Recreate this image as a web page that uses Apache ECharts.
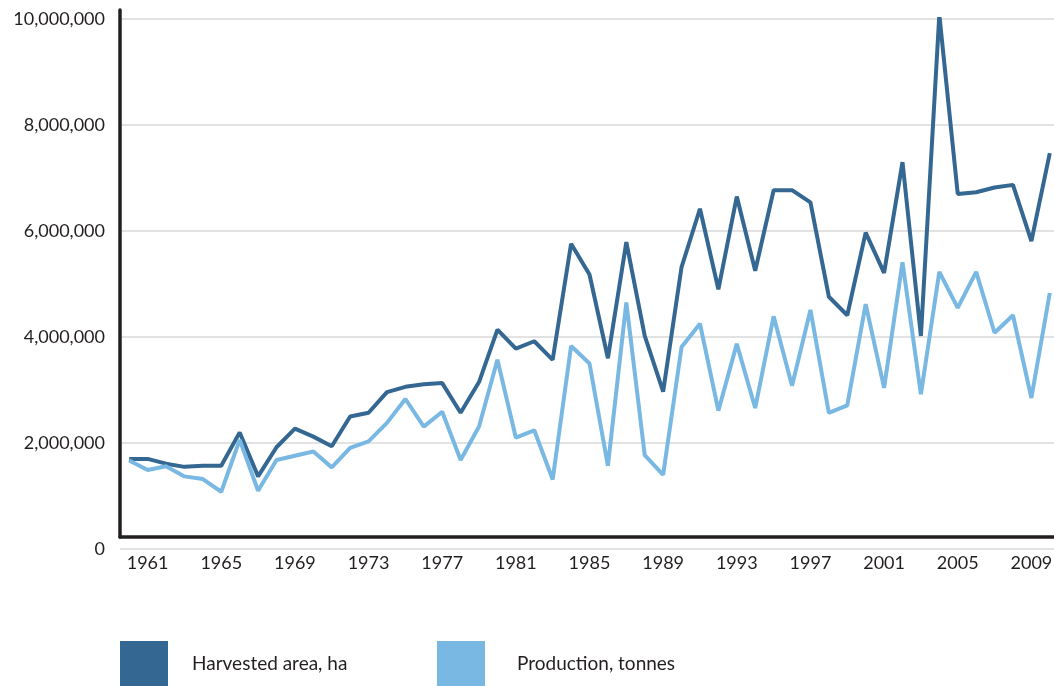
<!DOCTYPE html>
<html>
<head>
<meta charset="utf-8">
<script src="https://cdn.jsdelivr.net/npm/echarts@6/dist/echarts.min.js"></script>
<style>
  body { margin: 0; background: #fff; }
  #chart { width: 1054px; height: 686px; }
</style>
</head>
<body>
<div id="chart"></div>
<script>
// one point per year
const years = ['1960','1961','1962','1963','1964','1965','1966','1967','1968','1969',
  '1970','1971','1972','1973','1974','1975','1976','1977','1978','1979',
  '1980','1981','1982','1983','1984','1985','1986','1987','1988','1989',
  '1990','1991','1992','1993','1994','1995','1996','1997','1998','1999',
  '2000','2001','2002','2003','2004','2005','2006','2007','2008','2009','2010']
const shownYears = ['1961','1965','1969','1973','1977','1981','1985','1989','1993','1997','2001','2005','2009']

const harvested = [1700000,1700000,1610000,1550000,1570000,1570000,2200000,1370000,1920000,2270000,
  2120000,1940000,2500000,2570000,2960000,3060000,3110000,3130000,2570000,3150000,
  4140000,3780000,3920000,3570000,5760000,5180000,3600000,5790000,4020000,2970000,
  5320000,6420000,4900000,6650000,5250000,6770000,6770000,6540000,4760000,4410000,
  5970000,5210000,7300000,4020000,10080000,6700000,6730000,6820000,6870000,5810000,7470000]

const production = [1670000,1490000,1560000,1370000,1320000,1080000,2060000,1100000,1680000,1760000,
  1840000,1540000,1910000,2030000,2380000,2830000,2310000,2590000,1680000,2310000,
  3570000,2100000,2240000,1310000,3830000,3500000,1570000,4650000,1770000,1400000,
  3810000,4250000,2610000,3870000,2660000,4390000,3080000,4510000,2570000,2710000,
  4620000,3040000,5410000,2920000,5230000,4550000,5230000,4080000,4410000,2850000,4830000]

const yTicks = [0, 2000000, 4000000, 6000000, 8000000, 10000000]

const txt = '#231f20'
const font = 'Lato'

const chart = echarts.init(document.getElementById('chart'))

const legendBase = {
  top: 641,
  padding: 0,
  icon: 'rect',
  itemWidth: 48,
  itemHeight: 45,
  itemStyle: { borderWidth: 0 },
  selectedMode: false
}

chart.setOption({
  animation: false,
  color: ['#346791', '#78b8e2'],
  grid: [
    // plot area, 0 at the real zero
    { left: 120, right: -5, top: 19, bottom: 137, containLabel: false, outerBoundsMode: 'none' },
    // frame: the axis lines sit a little above zero
    { left: 120, right: -5, top: 10, bottom: 149, containLabel: false, outerBoundsMode: 'none' }
  ],
  legend: [
    Object.assign({}, legendBase, {
      left: 120,
      data: ['Harvested area, ha'],
      textStyle: { fontFamily: font, fontSize: 19, color: txt, padding: [0, 0, 0, 19] }
    }),
    Object.assign({}, legendBase, {
      left: 437,
      data: ['Production, tonnes'],
      textStyle: { fontFamily: font, fontSize: 19, color: txt, padding: [0, 0, 0, 27] }
    })
  ],
  xAxis: [
    { gridIndex: 0, type: 'category', data: years, boundaryGap: true, show: false },
    {
      gridIndex: 1,
      type: 'category',
      data: years,
      boundaryGap: true,
      axisLine: { lineStyle: { color: txt, width: 3.5 } },
      axisTick: { show: false },
      splitLine: { show: false },
      axisLabel: {
        interval: (i, v) => shownYears.includes(v),
        margin: 17,
        fontFamily: font,
        fontSize: 18,
        color: txt
      }
    }
  ],
  yAxis: [
    {
      gridIndex: 0,
      type: 'value',
      min: yTicks[0],
      max: yTicks[yTicks.length - 1],
      interval: yTicks[1] - yTicks[0],
      axisLine: { show: false },
      axisTick: { show: false },
      axisLabel: {
        margin: 15,
        fontFamily: font,
        fontSize: 18,
        color: txt,
        formatter: v => v.toLocaleString('en-US')
      },
      splitLine: { lineStyle: { color: '#d9d9d9', width: 1.5 } }
    },
    {
      gridIndex: 1,
      type: 'value',
      axisLine: { show: true, lineStyle: { color: txt, width: 3.5 } },
      axisTick: { show: false },
      axisLabel: { show: false },
      splitLine: { show: false }
    }
  ],
  series: [
    {
      name: 'Harvested area, ha',
      type: 'line',
      data: harvested,
      symbol: 'none',
      lineStyle: { width: 4 }
    },
    {
      name: 'Production, tonnes',
      type: 'line',
      data: production,
      symbol: 'none',
      lineStyle: { width: 4 }
    }
  ]
})
</script>
</body>
</html>
